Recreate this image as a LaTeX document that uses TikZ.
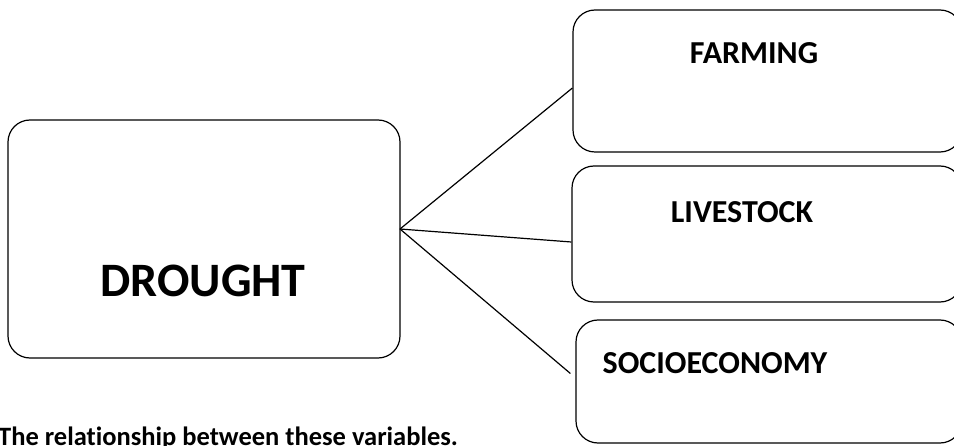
\documentclass[tikz,border=0pt]{standalone}
\usepackage{fontspec}
\setmainfont{Carlito}[Ligatures={NoCommon}]
\begin{document}
\begin{tikzpicture}[x=1pt,y=1pt,
  box/.style={draw, line width=1.2pt, rounded corners=22pt, inner sep=0pt},
  lbl/.style={font=\bfseries\fontsize{32}{38}\selectfont, inner sep=0pt}]
\useasboundingbox (0,0) rectangle (954,445);
\clip (0,0) rectangle (954,445);
\def\bx#1#2#3#4#5{
\node [box, minimum width=#4, minimum height=#5] (#1) at (#2,#3) {};
}
\bx{drought}{204}{206}{392}{238}
\bx{farm}{767.5}{364}{389}{142}
\bx{stock}{767}{211}{390}{136}
\bx{socio}{769}{63.5}{386}{123}
\node [lbl, font=\bfseries\fontsize{48}{56}\selectfont] (tdrought) at (203,164) {DROUGHT};
\node [lbl] (tfarm) at (754,392) {FARMING};
\node [lbl] (tstock) at (742,233) {LIVESTOCK};
\node [lbl] (tsocio) at (715,82) {SOCIOECONOMY};
\node [lbl, font=\bfseries\fontsize{26.5}{32}\selectfont, anchor=base west] (cap) at (-2,-0.5) {The relationship between these variables.};
\coordinate (hub) at (400,216);
\draw [line width=1.2pt] (hub) -- ([yshift=-7pt]farm.west);
\draw [line width=1.2pt] (hub) -- ([yshift=-8pt]stock.west);
\draw [line width=1.2pt] (hub) -- ([xshift=-5pt,yshift=8pt]socio.west);
\end{tikzpicture}
\end{document}
